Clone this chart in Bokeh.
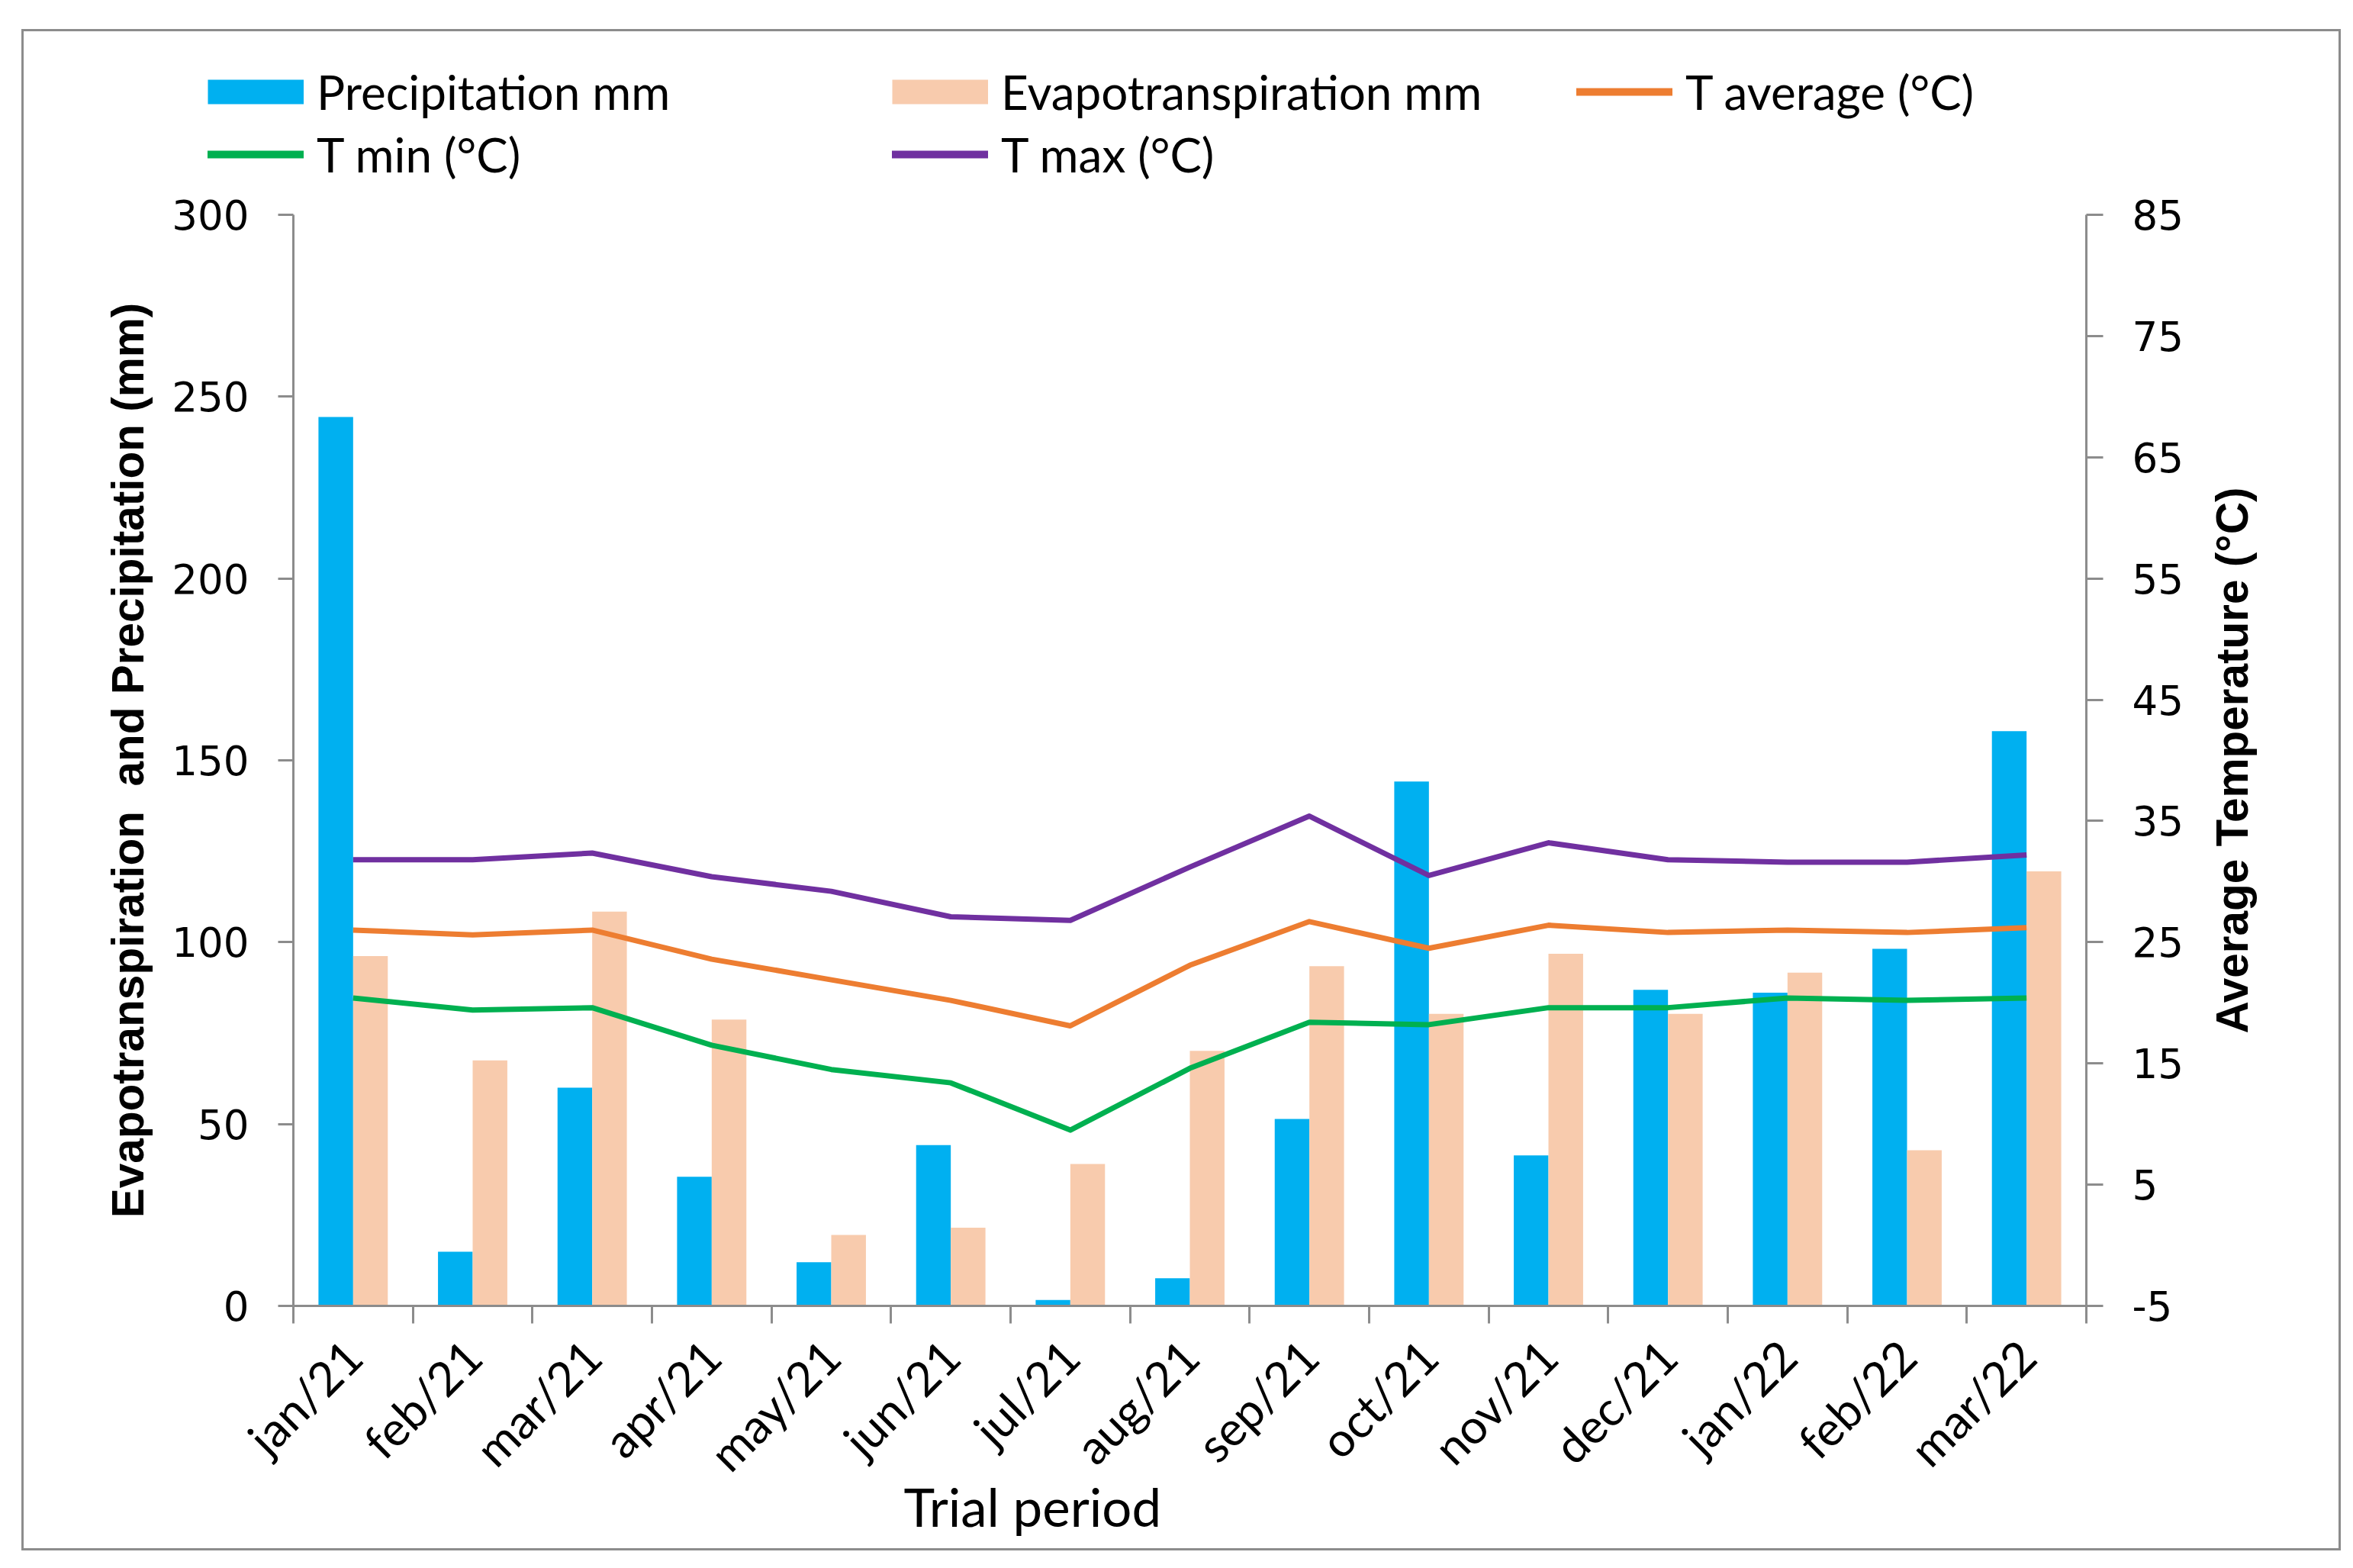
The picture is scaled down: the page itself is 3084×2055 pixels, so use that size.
import numpy as np
from math import pi
from bokeh.plotting import figure
from bokeh.layouts import column, row
from bokeh.models import (Range1d, LinearAxis, FixedTicker, Legend, LegendItem,
                          Title, ColumnDataSource)
from bokeh.transform import dodge
from bokeh.embed import file_html
from bokeh.resources import INLINE

categories = ["jan/21", "feb/21", "mar/21", "apr/21", "may/21", "jun/21", "jul/21",
              "aug/21", "sep/21", "oct/21", "nov/21", "dec/21", "jan/22", "feb/22", "mar/22"]
precipitation = [244.4, 14.9, 60.0, 35.5, 12.0, 44.2, 1.6, 7.6, 51.4, 144.2, 41.4, 86.9, 86.1, 98.2, 158.0]
evapotranspiration = [96.2, 67.5, 108.4, 78.7, 19.5, 21.5, 39.0, 70.1, 93.4, 80.3, 96.8, 80.3, 91.6, 42.8, 119.5]
t_average = [26.0, 25.6, 26.0, 23.6, 21.9, 20.2, 18.1, 23.1, 26.7, 24.5, 26.4, 25.8, 26.0, 25.8, 26.2]
t_min = [20.4, 19.4, 19.6, 16.5, 14.5, 13.4, 9.5, 14.6, 18.4, 18.2, 19.6, 19.6, 20.4, 20.2, 20.4]
t_max = [31.8, 31.8, 32.35, 30.4, 29.2, 27.1, 26.8, 31.2, 35.4, 30.5, 33.2, 31.8, 31.6, 31.6, 32.2]
left_ticks = [0, 50, 100, 150, 200, 250, 300]
right_ticks = [-5, 5, 15, 25, 35, 45, 55, 65, 75, 85]

BLUE = "#00B0F0"
PEACH = "#F8CBAD"
ORANGE = "#ED7D31"
GREEN = "#00B050"
PURPLE = "#7030A0"
AXIS = "#8C8C8C"
NARROW = "Lato"

W = 3034
LEG_H = 210
MAIN_H = 1778
RS_W = 185
P_W = W - RS_W

n = len(categories)
xs = list(range(n))
src = ColumnDataSource(dict(x=xs, precip=precipitation, evapo=evapotranspiration,
                            tavg=t_average, tmin=t_min, tmax=t_max))

# ---------- legend strip ----------
lg = figure(width=W, height=LEG_H, output_backend="svg", toolbar_location=None,
            x_range=Range1d(0, 1), y_range=Range1d(0, 1), x_axis_type=None, y_axis_type=None,
            min_border=0)
lg.frame_align = False
lg.outline_line_color = None
lg.xgrid.visible = False
lg.ygrid.visible = False
off = dict(x=[0, 1], y=[-5, -5])
lp = lg.line(x=off["x"], y=off["y"], color=BLUE, line_width=32, line_cap="butt")
le = lg.line(x=off["x"], y=off["y"], color=PEACH, line_width=32, line_cap="butt")
la = lg.line(x=off["x"], y=off["y"], color=ORANGE, line_width=10, line_cap="round")
lmin = lg.line(x=off["x"], y=off["y"], color=GREEN, line_width=10, line_cap="round")
lmax = lg.line(x=off["x"], y=off["y"], color=PURPLE, line_width=10, line_cap="round")
legend = Legend(items=[
    LegendItem(label="Precipitation mm", renderers=[lp]),
    LegendItem(label="T min (°C)", renderers=[lmin]),
    LegendItem(label="Evapotranspiration mm", renderers=[le]),
    LegendItem(label="T max (°C)", renderers=[lmax]),
    LegendItem(label="T average (°C)", renderers=[la]),
], ncols=3, location=(241, 8), glyph_width=126, glyph_height=82,
    label_height=82, label_width=754, label_standoff=17, spacing=0, padding=0, margin=0,
    border_line_color=None, background_fill_alpha=0,
    label_text_font=NARROW, label_text_font_size="62px", label_text_color="black")
lg.add_layout(legend, "center")

# ---------- main chart ----------
p = figure(width=P_W, height=MAIN_H, output_backend="svg", toolbar_location=None,
           x_range=Range1d(-0.5, n - 0.5), y_range=Range1d(0, 300),
           min_border_left=353, min_border_right=146, min_border_top=30, min_border_bottom=318)
p.frame_align = False
p.outline_line_color = None
p.xgrid.visible = False
p.ygrid.visible = False
p.extra_y_ranges = {"temp": Range1d(-5, 85)}

bw = 0.29
p.vbar(x=dodge("x", -bw / 2), top="precip", width=bw, source=src, color=BLUE, line_color=None)
p.vbar(x=dodge("x", bw / 2), top="evapo", width=bw, source=src, color=PEACH, line_color=None)
lw = 7
p.line("x", "tmax", source=src, y_range_name="temp", color=PURPLE, line_width=lw, line_join="round")
p.line("x", "tavg", source=src, y_range_name="temp", color=ORANGE, line_width=lw, line_join="round")
p.line("x", "tmin", source=src, y_range_name="temp", color=GREEN, line_width=lw, line_join="round")

# x axis
xa = p.xaxis[0]
xa.ticker = FixedTicker(ticks=xs, minor_ticks=[i - 0.5 for i in range(n + 1)])
xa.major_label_overrides = {i: c for i, c in enumerate(categories)}
xa.major_label_orientation = pi / 4
xa.major_tick_out = 0
xa.major_tick_in = 0
xa.minor_tick_out = 23
xa.minor_tick_in = 0
xa.minor_tick_line_color = AXIS
xa.minor_tick_line_width = 3
xa.axis_line_color = AXIS
xa.axis_line_width = 3
xa.major_label_text_font = NARROW
xa.major_label_text_font_size = "62px"
xa.major_label_text_color = "black"
xa.major_label_standoff = 32

# left axis
ya = p.yaxis[0]
ya.ticker = FixedTicker(ticks=left_ticks)
ya.minor_tick_line_color = None
ya.major_tick_out = 20
ya.major_tick_in = 0
ya.major_tick_line_color = AXIS
ya.major_tick_line_width = 3
ya.axis_line_color = AXIS
ya.axis_line_width = 3
ya.major_label_text_font = "DejaVu Sans"
ya.major_label_text_font_size = "53px"
ya.major_label_text_color = "black"
ya.major_label_standoff = 38
ya.axis_label = "Evapotranspiration\u00a0 and Precipitation (mm)"
ya.axis_label_text_font = "Liberation Sans"
ya.axis_label_text_font_style = "bold"
ya.axis_label_text_font_size = "58.5px"
ya.axis_label_text_color = "black"
ya.axis_label_standoff = 22

# right axis (ticks + labels)
ra = LinearAxis(y_range_name="temp", ticker=FixedTicker(ticks=right_ticks))
ra.major_label_overrides = {t: str(t) for t in right_ticks}
ra.minor_tick_line_color = None
ra.major_tick_out = 22
ra.major_tick_in = 0
ra.major_tick_line_color = AXIS
ra.major_tick_line_width = 3
ra.axis_line_color = AXIS
ra.axis_line_width = 3
ra.major_label_text_font = "DejaVu Sans"
ra.major_label_text_font_size = "53px"
ra.major_label_text_color = "black"
ra.major_label_standoff = 38
p.add_layout(ra, "right")

# x axis title (placed left of centre as in the reference)
p.add_layout(Title(text="Trial period", align="left", offset=800, standoff=-80,
                   text_font=NARROW, text_font_size="69px", text_color="black",
                   text_font_style="normal"), "below")

# ---------- right strip carrying the temperature axis title ----------
rs = figure(width=RS_W, height=MAIN_H, output_backend="svg", toolbar_location=None,
            x_range=Range1d(0, 1), y_range=Range1d(-5, 85), x_axis_type=None, y_axis_type=None,
            min_border_left=85, min_border_right=0, min_border_top=30, min_border_bottom=318)
rs.frame_align = False
rs.outline_line_color = None
rs.xgrid.visible = False
rs.ygrid.visible = False
ta = LinearAxis(ticker=FixedTicker(ticks=[]), axis_label="Average Temperature (°C)")
ta.axis_line_color = None
ta.major_tick_line_color = None
ta.minor_tick_line_color = None
ta.axis_label_text_font = "Liberation Sans"
ta.axis_label_text_font_style = "bold"
ta.axis_label_text_font_size = "58.5px"
ta.axis_label_text_color = "black"
ta.axis_label_standoff = 8
rs.add_layout(ta, "left")

layout = column(lg, row(p, rs, spacing=0), spacing=0, margin=(38, 0, 0, 28),
                styles={"border": "3px solid #8C8C8C"})

open("out.html", "w").write(file_html(layout, INLINE))
